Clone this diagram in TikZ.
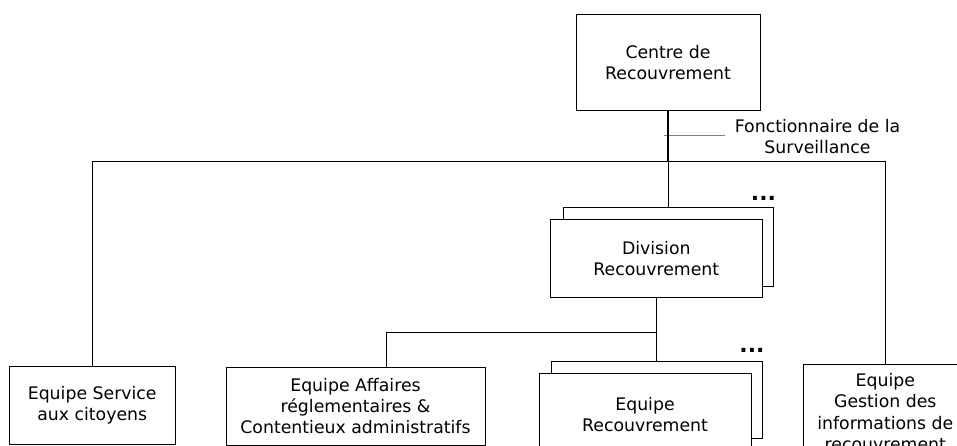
\documentclass[tikz,border=0pt]{standalone}
\usepackage{fontspec}
\setmainfont{DejaVu Sans}
\usepackage{tikz}

\begin{document}
\begin{tikzpicture}[x=1pt, y=-1pt, thin,
    font=\fontsize{17.3}{20.8}\selectfont,
    unitbox/.style={draw, fill=white, align=center, inner sep=0pt}]
        \path[use as bounding box, clip] (0,0) rectangle (957,446);

        % unités (boîtes)
        \node[unitbox, minimum width=184.6pt, minimum height=95.7pt] (centre) at (668,62.2) {Centre de\\Recouvrement};
        \node[unitbox, minimum width=210.6pt, minimum height=78.4pt] (divback) at (668,246.5) {};
        \node[unitbox, minimum width=211.3pt, minimum height=78.3pt] (division) at (656.3,258.2) {Division\\Recouvrement};
        \node[unitbox, minimum width=211.3pt, minimum height=77.6pt] (recback) at (656.6,399.5) {};
        \node[unitbox, minimum width=211.4pt, minimum height=82.4pt] (recouv) at (645,414.5) {Equipe\\Recouvrement};
        \node[unitbox, minimum width=166pt, minimum height=78.3pt] (service) at (92.2,405) {Equipe Service\\aux citoyens};
        \node[unitbox, minimum width=259pt, minimum height=78pt] (affaires) at (355.5,406) {Equipe Affaires\\réglementaires \&\\Contentieux administratifs};
        \node[unitbox, minimum width=164pt, minimum height=96pt, font=\fontsize{17.3}{21.3}\selectfont] (gestion) at (885.3,412) {Equipe\\Gestion des\\informations de\\recouvrement};

        % points de suite
        \node[font=\bfseries\fontsize{22}{22}\selectfont, inner sep=0pt] (dotsdiv) at (763.5,198) {...};
        \node[font=\bfseries\fontsize{22}{22}\selectfont, inner sep=0pt] (dotsrec) at (752,350) {...};

        % fonctionnaire
        \node[align=center, inner sep=0pt] (fonct) at (817.5,136.7) {Fonctionnaire de la\\Surveillance};
        \coordinate (fleft) at (664,135);
        \draw[gray] (fleft) -- (725,135);

        % liaisons
        \coordinate (branch) at (centre.south |- 0,161.7);
        \draw[line width=1.3pt] (centre.south) -- (branch);
        \draw (branch) -- (branch |- divback.north);
        \draw (service.north) |- (branch) -| (gestion.north);
        \coordinate (subbranch) at (division.south |- 0,331.7);
        \draw (division.south) -- (division.south |- recback.north);
        \draw (subbranch) -| (386,0 |- affaires.north);
    \end{tikzpicture}
\end{document}
